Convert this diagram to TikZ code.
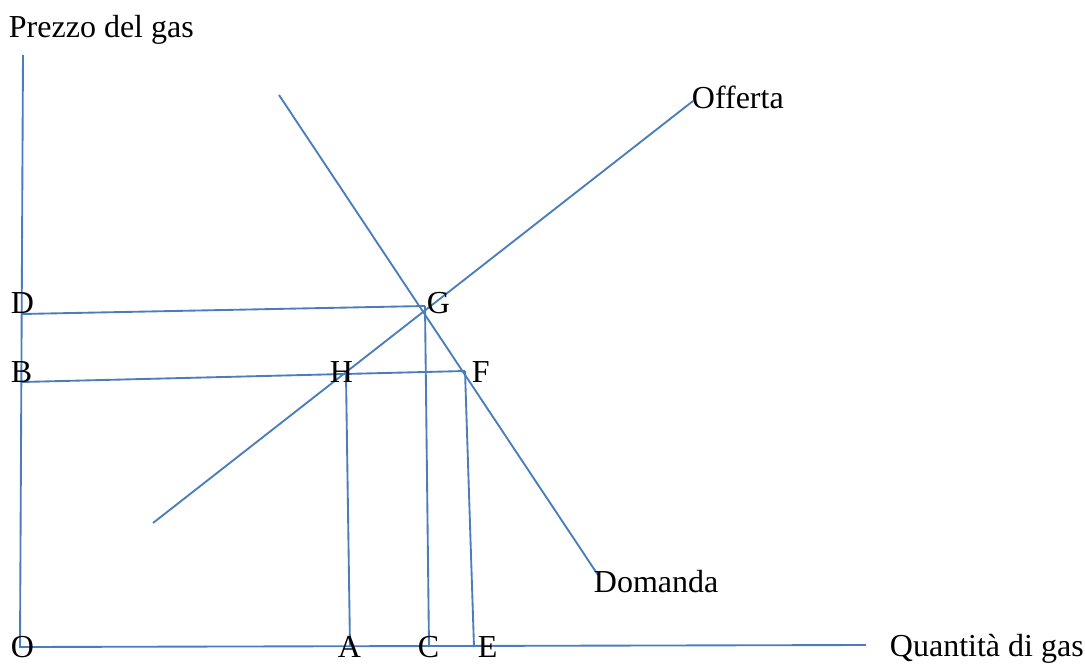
\documentclass[tikz,border=0pt]{standalone}
\usepackage{fontspec}
\setmainfont{Liberation Serif}
\usepackage{xcolor}
\usetikzlibrary{positioning}
\definecolor{linea}{HTML}{4A7EBB}

\begin{document}
\begin{tikzpicture}[x=0.75pt,y=-0.75pt,line width=1.4pt,
  curva/.style={draw=linea},
  etichetta/.style={anchor=base west,inner sep=0pt,font=\fontsize{24}{28}\selectfont}]
\useasboundingbox (0,0) rectangle (1085,664);
% punti
\coordinate (ytop) at (23,55);
\coordinate (o) at (20,647);
\coordinate (xend) at (866,645);
\coordinate (s1) at (153,523);
\coordinate (s2) at (693,101);
\coordinate (d1) at (279,95);
\coordinate (d2) at (598,575);
\coordinate (pd) at (22,314);
\coordinate (pg) at (425,306);
\coordinate (pb) at (22,382);
\coordinate (pf) at (465,371);
\coordinate (ph) at (346,375);
\coordinate (pa) at (350,647);
\coordinate (pc) at (429,647);
\coordinate (pe) at (474,647);
% assi e curve
\draw[curva] (ytop) -- (o) -- (xend);
\draw[curva] (s1) -- (s2);
\draw[curva] (d1) -- (d2);
\draw[curva] (pd) -- (pg);
\draw[curva] (pb) -- (pf);
\draw[curva] (ph) -- (pa);
\draw[curva] (pg) -- (pc);
\draw[curva] (pf) -- (pe);
% testi
\node[etichetta] (prezzo) at (8,37) {Prezzo del gas};
\node[etichetta] (offerta) at (691,108) {Offerta};
\node[etichetta] (domanda) at (593,592) {Domanda};
\node[etichetta] (quantita) at (889,656) {Quantità di gas};
\node[etichetta] (lD) at (10,313) {D};
\node[etichetta] (lG) at (426,313) {G};
\node[etichetta] (lB) at (10,382) {B};
\node[etichetta] (lH) at (329,382) {H};
\node[etichetta] (lF) at (471,382) {F};
\node[etichetta] (lO) at (10,657) {O};
\node[etichetta] (lA) at (337,657) {A};
\node[etichetta] (lC) at (417,657) {C};
\node[etichetta] (lE) at (477,657) {E};
\end{tikzpicture}
\end{document}
